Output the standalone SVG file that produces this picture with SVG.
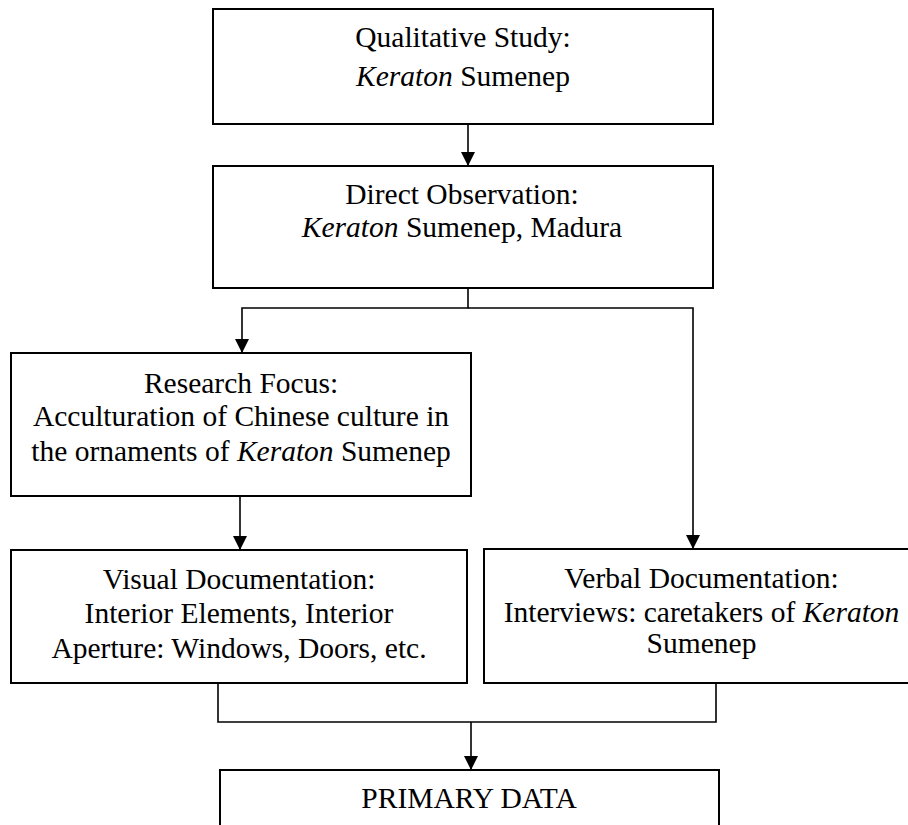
<svg xmlns="http://www.w3.org/2000/svg" width="908" height="825" viewBox="0 0 908 825">
<style>
.box{fill:#fff;stroke:#000;stroke-width:2}
.t{font-family:"Liberation Serif","Times New Roman",serif;font-size:29.5px;fill:#000;text-anchor:middle}
.i{font-style:italic}
.c{fill:none;stroke:#000;stroke-width:1.6}
</style>
<defs>
<marker id="ah" viewBox="0 0 14 14" refX="14" refY="7" markerWidth="14" markerHeight="14" markerUnits="userSpaceOnUse" orient="auto">
<path d="M0,0 L14,7 L0,14 Z" fill="#000"/>
</marker>
</defs>
<rect width="908" height="825" fill="#fff"/>
<g id="connectors">
<path class="c" d="M468,124 V166" marker-end="url(#ah)"/>
<path class="c" d="M468,288 V308 H242 V353" marker-end="url(#ah)"/>
<path class="c" d="M468,308 H693 V549" marker-end="url(#ah)"/>
<path class="c" d="M240,496 V550" marker-end="url(#ah)"/>
<path class="c" d="M218,683 V722 H716 V683"/>
<path class="c" d="M471,722 V770" marker-end="url(#ah)"/>
</g>
<g id="qualitative">
<rect class="box" x="213" y="9" width="500" height="115"/>
<text class="t" x="463" y="47">Qualitative Study:</text>
<text class="t" x="463" y="86"><tspan class="i">Keraton</tspan> Sumenep</text>
</g>
<g id="observation">
<rect class="box" x="213" y="166" width="500" height="122"/>
<text class="t" x="462" y="204">Direct Observation:</text>
<text class="t" x="462" y="237"><tspan class="i">Keraton</tspan> Sumenep, Madura</text>
</g>
<g id="focus">
<rect class="box" x="11" y="353" width="460" height="143"/>
<text class="t" x="241" y="393">Research Focus:</text>
<text class="t" x="241" y="426">Acculturation of Chinese culture in</text>
<text class="t" x="241" y="461">the ornaments of <tspan class="i">Keraton</tspan> Sumenep</text>
</g>
<g id="visual">
<rect class="box" x="11" y="550" width="456" height="133"/>
<text class="t" x="239" y="589">Visual Documentation:</text>
<text class="t" x="239" y="623">Interior Elements, Interior</text>
<text class="t" x="239" y="658">Aperture: Windows, Doors, etc.</text>
</g>
<g id="verbal">
<rect class="box" x="484" y="549" width="440" height="134"/>
<text class="t" x="701.5" y="588">Verbal Documentation:</text>
<text class="t" x="701.5" y="622">Interviews: caretakers of <tspan class="i">Keraton</tspan></text>
<text class="t" x="701.5" y="653">Sumenep</text>
</g>
<g id="primary">
<rect class="box" x="220" y="770" width="499" height="80"/>
<text class="t" x="469" y="808">PRIMARY DATA</text>
</g>
</svg>
